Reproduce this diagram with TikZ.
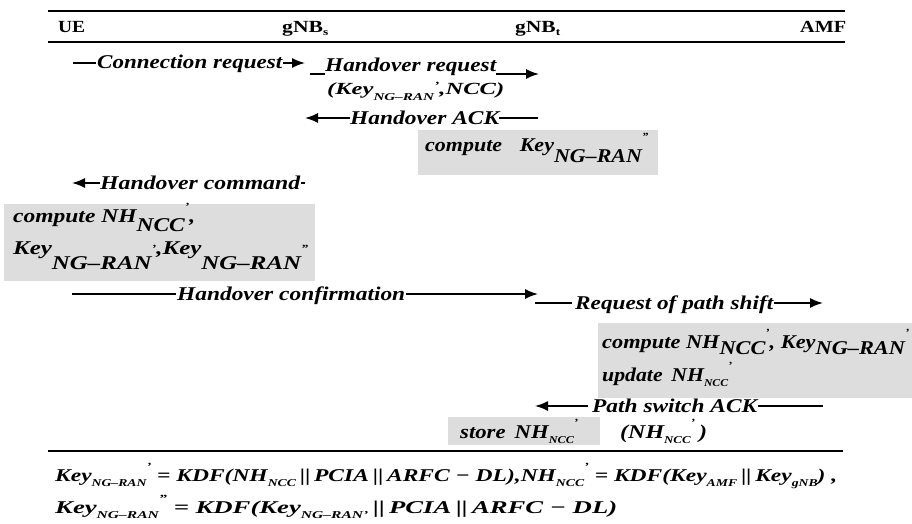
\documentclass[tikz,border=0pt]{standalone}
\usepackage{fontspec}
\setmainfont{Liberation Serif}
\usepackage{graphicx}
\usetikzlibrary{arrows.meta}
\definecolor{boxgray}{RGB}{221,221,221}
\newcommand{\fw}[2]{\resizebox{#1pt}{\height}{#2}}
\newcommand{\lsub}[2][0.55em]{\raisebox{-#1}{#2}}
\newcommand{\ssub}[2][0.3em]{\raisebox{-#1}{\fontsize{10.5}{11}\selectfont #2}}
\newcommand{\pr}[1][0.5em]{\raisebox{#1}{\fontsize{11}{11}\selectfont '}}
\newcommand{\ppr}[1][0.5em]{\raisebox{#1}{\fontsize{11}{11}\selectfont ''}}
\newcommand{\bars}{\,{\upshape||}\,}
\tikzset{
  lbl/.style={anchor=base west, inner sep=0pt, font=\fontsize{19.5}{21}\selectfont\bfseries\itshape},
  hdr/.style={anchor=base west, inner sep=0pt, font=\fontsize{17}{19}\selectfont\bfseries},
  msg/.style={line width=1.6pt},
  msgarrow/.style={line width=1.6pt, -{Latex[length=13pt,width=10pt]}},
  rulebar/.style={line width=2.4pt},
  graybox/.style={fill=boxgray},
}
\begin{document}
\begin{tikzpicture}[x=1pt,y=-1pt]
\useasboundingbox (0,0) rectangle (912,524);

% header
\coordinate (r1a) at (48,11); \coordinate (r1b) at (845,11);
\coordinate (r2a) at (48,42); \coordinate (r2b) at (845,42);
\draw[rulebar] (r1a) -- (r1b);
\draw[rulebar] (r2a) -- (r2b);
\node[hdr] (ue) at (58,33) {\fw{27}{UE}};
\node[hdr] (gs) at (282,33) {\fw{46}{gNB\ssub[0.15em]{s}}};
\node[hdr] (gt) at (515,33) {\fw{45}{gNB\ssub[0.15em]{t}}};
\node[hdr] (amf) at (800,33) {\fw{46}{AMF}};

% connection request
\node[lbl] (cr) at (97,69) {\fw{185}{Connection request}};
\coordinate (cr0) at (73,63); \coordinate (cr1) at (305,63);
\draw[msg] (cr0) -- ([xshift=-1pt]cr0 -| cr.west);
\draw[msgarrow] ([xshift=1pt]cr1 -| cr.east) -- (cr1);

% handover request
\node[lbl] (hr) at (325,72) {\fw{171}{Handover request}};
\coordinate (hr0) at (310,74); \coordinate (hr1) at (539,74);
\draw[msg] (hr0) -- (hr0 -| hr.west);
\draw[msgarrow] (hr1 -| hr.east) -- (hr1);
\node[lbl, font=\fontsize{17}{19}\selectfont\bfseries\itshape] (hrp) at (327,95)
  {\fw{177}{(Key\ssub{NG–RAN}\pr[0.35em],NCC)}};

% handover ACK
\node[lbl] (ack) at (350,124) {\fw{149}{Handover ACK}};
\coordinate (ack0) at (538,118); \coordinate (ack1) at (305,118);
\draw[msg] (ack0) -- (ack0 -| ack.east);
\draw[msgarrow] (ack1 -| ack.west) -- (ack1);

% box 1
\fill[graybox] (418,130) rectangle (658,175);
\node[lbl] (c1) at (425,152) {\fw{223}{compute\hspace{0.8em}Key\lsub[0.55em]{NG–RAN}\ppr[0.6em]}};

% handover command
\node[lbl] (hc) at (100,189) {\fw{200}{Handover command}};
\coordinate (hc1) at (72,183); \coordinate (hc2) at (305,183);
\draw[msgarrow] (hc1 -| hc.west) -- (hc1);
\draw[msg] ([xshift=1pt]hc2 -| hc.east) -- (hc2);

% box 2
\fill[graybox] (4,204) rectangle (315,281);
\node[lbl] (c2a) at (13,222) {\fw{182}{compute NH\lsub[0.5em]{NCC}\pr[0.6em],}};
\node[lbl] (c2b) at (13,254) {\fw{295}{Key\lsub[0.8em]{NG–RAN}\pr[0.1em],Key\lsub[0.8em]{NG–RAN}\ppr[0.1em]}};

% handover confirmation
\node[lbl] (hcf) at (177,300) {\fw{228}{Handover confirmation}};
\coordinate (hcf0) at (72,294); \coordinate (hcf1) at (538,294);
\draw[msg] (hcf0) -- ([xshift=-1pt]hcf0 -| hcf.west);
\draw[msgarrow] ([xshift=1pt]hcf1 -| hcf.east) -- (hcf1);

% request of path shift
\node[lbl] (rps) at (575,309) {\fw{198}{Request of path shift}};
\coordinate (rps0) at (535,303); \coordinate (rps1) at (823,303);
\draw[msg] (rps0) -- ([xshift=-3pt]rps0 -| rps.west);
\draw[msgarrow] ([xshift=1pt]rps1 -| rps.east) -- (rps1);

% box 3
\fill[graybox] (598,323) rectangle (912,398);
\node[lbl] (c3a) at (602,348) {\fw{307}{compute NH\lsub[0.35em]{NCC}\pr[0.6em], Key\lsub[0.35em]{NG–RAN}\pr[0.6em]}};
\node[lbl] (c3b) at (602,381) {\fw{130}{update\hspace{0.4em}NH\ssub{NCC}\pr[0.6em]}};

% path switch ACK
\node[lbl] (psa) at (592,412) {\fw{165}{Path switch ACK}};
\coordinate (psa0) at (823,406); \coordinate (psa1) at (535,406);
\draw[msg] (psa0) -- ([xshift=1pt]psa0 -| psa.east);
\draw[msgarrow] ([xshift=-4pt]psa1 -| psa.west) -- (psa1);

% box 4
\fill[graybox] (448,417) rectangle (600,445);
\node[lbl] (st) at (460,438) {\fw{118}{store\hspace{0.4em}NH\ssub{NCC}\pr[0.6em]}};
\node[lbl] (nhp) at (620,438) {\fw{87}{(NH\ssub{NCC}\pr[0.6em]\,)}};

% bottom rule
\coordinate (r3a) at (48,451); \coordinate (r3b) at (843,451);
\draw[rulebar] (r3a) -- (r3b);

% formulas
\node[lbl, font=\fontsize{18}{20}\selectfont\bfseries\itshape] (f1) at (55,481)
  {\fw{782}{Key\ssub{NG–RAN}\pr[0.6em]\ = KDF(NH\ssub{NCC}\bars PCIA\bars ARFC − DL),NH\ssub{NCC}\pr[0.6em]\ = KDF(Key\ssub{AMF}\bars Key\ssub{gNB}) ,}};
\node[lbl, font=\fontsize{18}{20}\selectfont\bfseries\itshape] (f2) at (55,513)
  {\fw{562}{Key\ssub{NG–RAN}\ppr[0.6em]\ = KDF(Key\ssub{NG–RAN'}\bars PCIA\bars ARFC − DL)}};
\end{tikzpicture}
\end{document}
